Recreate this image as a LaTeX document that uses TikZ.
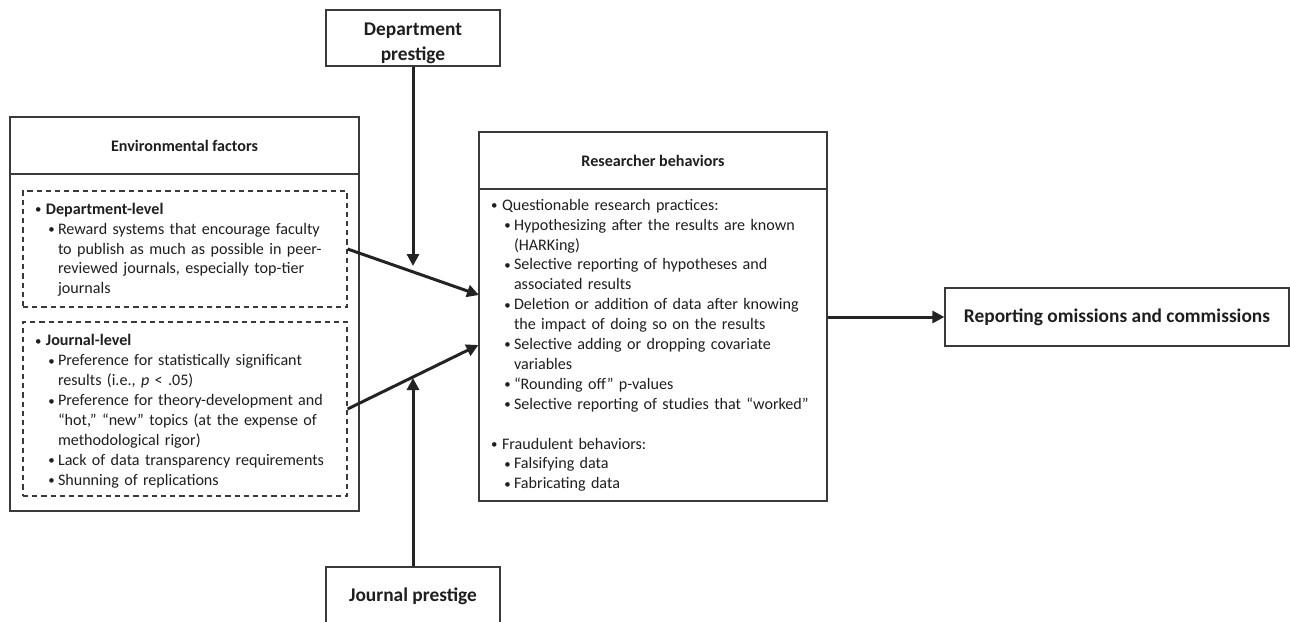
\documentclass[tikz,border=0pt]{standalone}
\usepackage{fontspec}
\setmainfont{Carlito}
\usetikzlibrary{arrows.meta}
\definecolor{boxgray}{HTML}{3A3A3A}
\definecolor{linegray}{HTML}{232323}
\definecolor{inkgray}{HTML}{1E1E1E}
\newcommand{\listfont}{\fontsize{8.05}{9.95}\selectfont}
\newcommand{\headfont}{\fontsize{8.05}{9.95}\selectfont\bfseries}
\newcommand{\bigfont}{\fontsize{9.7}{12.5}\selectfont\bfseries}
\newcommand{\bul}{\raisebox{0.3pt}{\scalebox{0.8}{\textbullet}}}
% bullet levels, measured from the left edge of the box
\newcommand{\lvone}[1]{\par\leftskip=11.5pt\noindent\hspace*{-5.5pt}\makebox[5.5pt][l]{\bul}#1\par}
\newcommand{\lvtwo}[1]{\par\leftskip=17.5pt\noindent\hspace*{-4.8pt}\makebox[4.8pt][l]{\bul}#1\par}
\begin{document}
\begin{tikzpicture}[x=0.5pt, y=-0.5pt, text=inkgray,
    box/.style={draw=boxgray, line width=0.6pt, inner sep=0pt},
    headbox/.style={box, minimum width=174.5pt, minimum height=28.5pt, font=\headfont},
    bigbox/.style={box, minimum width=87pt, align=center, font=\bigfont},
    dashbox/.style={draw=boxgray, line width=0.6pt, dash pattern=on 2.6pt off 2pt,
      inner sep=0pt, text width=162pt, align=left, font=\listfont},
    listbox/.style={box, inner sep=0pt, text width=174pt, align=left, font=\listfont},
    link/.style={draw=linegray, line width=1.5pt, -{Triangle[length=6pt, width=6pt]}}]
  \useasboundingbox (0,0) rectangle (1290,621);
  % left block
  \node[headbox] (envhead) at (184.5,145.5) {Environmental factors};
  \node[box, minimum width=174.5pt, minimum height=168.5pt] (envbody) at (184.5,342.5) {};
  \node[dashbox, minimum height=58pt] (deplev) at (185,249) {%
    \lvone{\textbf{Department-level}}
    \lvtwo{Reward systems that encourage faculty\newline to publish as much as possible in peer-\newline reviewed journals, especially top-tier\newline journals}
    \vspace{3.5pt}};
  \node[dashbox, minimum height=87pt] (jourlev) at (185,409) {%
    \lvone{\textbf{Journal-level}}
    \lvtwo{Preference for statistically significant\newline results (i.e., \textit{p} < .05)}
    \lvtwo{Preference for theory-development and\newline “hot,” “new” topics (at the expense of\newline methodological rigor)}
    \lvtwo{Lack of data transparency requirements}
    \lvtwo{Shunning of replications}
    \vspace{2pt}};
  % middle block
  \node[headbox, minimum width=174pt] (reshead) at (653,160.5) {Researcher behaviors};
  \node[listbox, minimum height=156pt] (resbody) at (653,345) {%
    \lvone{Questionable research practices:}
    \lvtwo{Hypothesizing after the results are known\newline (HARKing)}
    \lvtwo{Selective reporting of hypotheses and\newline associated results}
    \lvtwo{Deletion or addition of data after knowing\newline the impact of doing so on the results}
    \lvtwo{Selective adding or dropping covariate\newline variables}
    \lvtwo{“Rounding off” p-values}
    \lvtwo{Selective reporting of studies that “worked”}
    \vspace{9.95pt}
    \lvone{Fraudulent behaviors:}
    \lvtwo{Falsifying data}
    \lvtwo{Fabricating data}
    \vspace{4pt}};
  % moderators and outcome
  \node[bigbox, minimum height=28pt] (deptp) at (413,38) {\rule{0pt}{12pt}Department\\prestige};
  \node[bigbox, minimum height=29pt] (jourp) at (413,596) {Journal prestige};
  \node[box, minimum width=172pt, minimum height=29pt, font=\bigfont] (report) at (1117,317) {Reporting omissions and commissions};
  \coordinate (deptend) at (413,266);
  \coordinate (jourend) at (413,378);
  \coordinate (upend) at (479,295);
  % connectors
  \draw[link] (deptp) -- (deptend);
  \draw[link] (jourp) -- (jourend);
  \draw[link] (deplev.east) -- (upend);
  \draw[link] (jourlev.east) -- (resbody.west);
  \draw[link] (resbody.east |- report.west) -- (report.west);
\end{tikzpicture}
\end{document}
